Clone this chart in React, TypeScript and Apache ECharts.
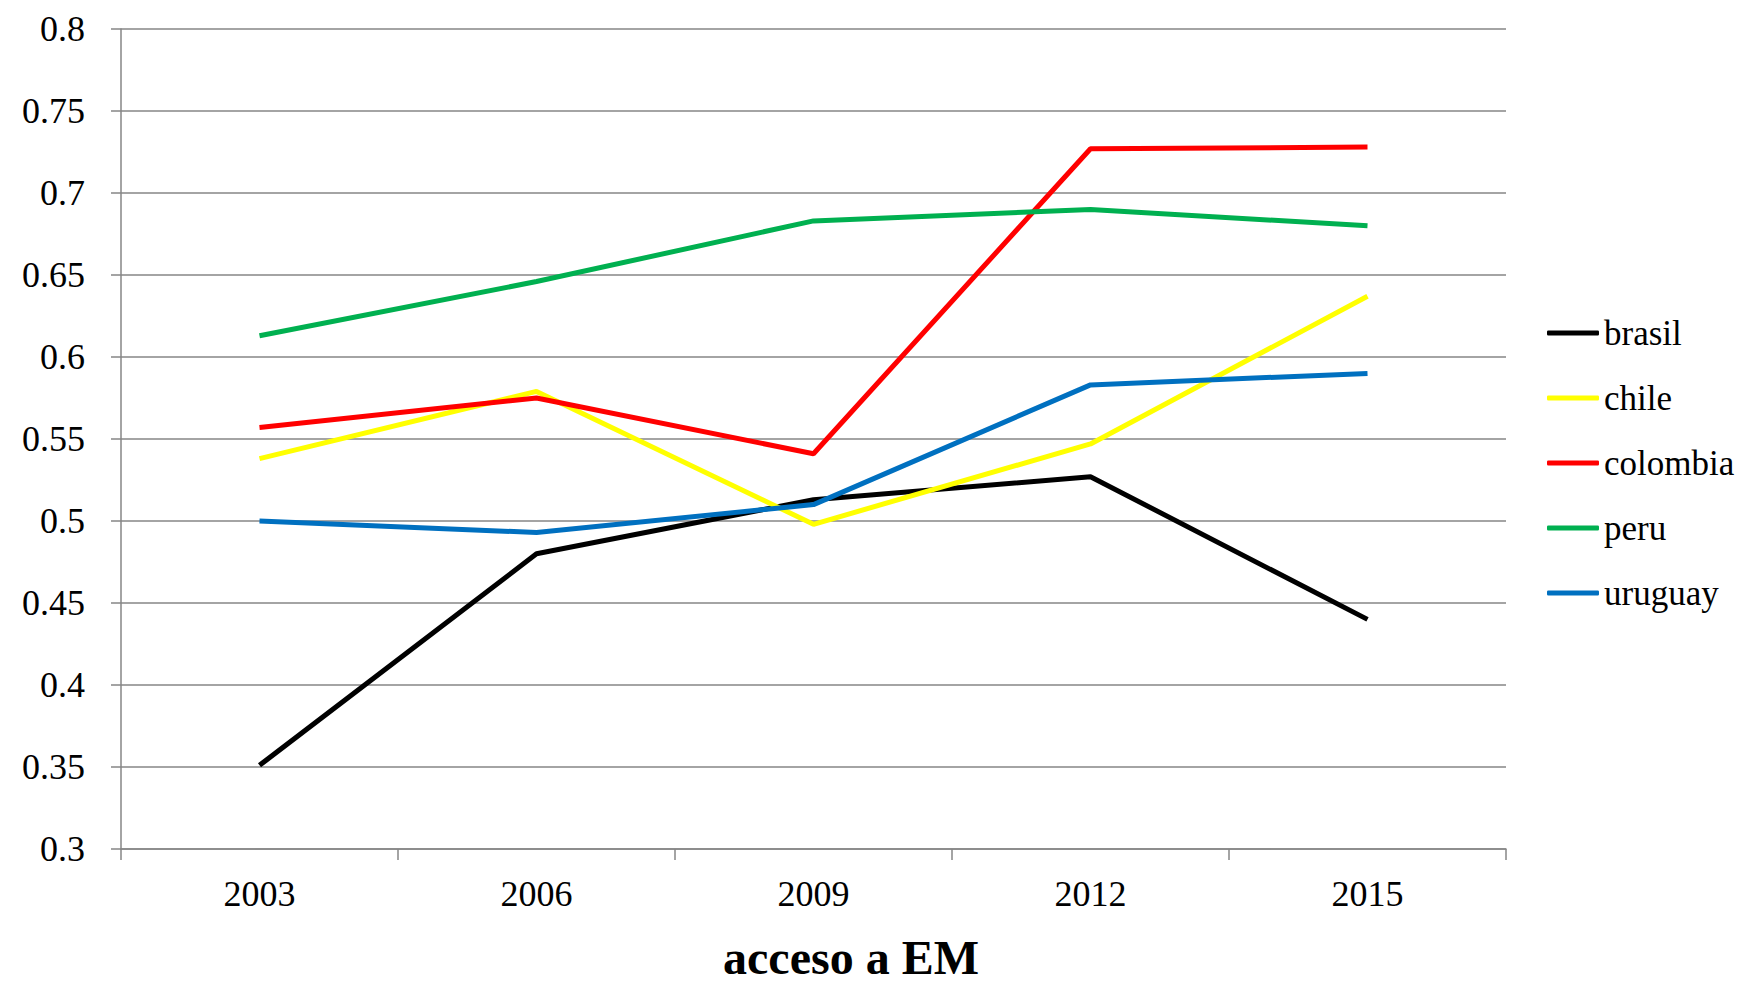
import React, { useEffect, useRef } from "react";
import * as echarts from "echarts";

const years = ["2003", "2006", "2009", "2012", "2015"];
const seriesNames = ["brasil", "chile", "colombia", "peru", "uruguay"];
const brasil = [0.351, 0.48, 0.513, 0.527, 0.44];
const chile = [0.538, 0.579, 0.498, 0.547, 0.637];
const colombia = [0.557, 0.575, 0.541, 0.727, 0.728];
const peru = [0.613, 0.646, 0.683, 0.69, 0.68];
const uruguay = [0.5, 0.493, 0.51, 0.583, 0.59];
const colors = ["#000000", "#FFFF00", "#FF0000", "#00B050", "#0070C0"];
const xTitle = "acceso a EM";

export default function App() {
  const ref = useRef<HTMLDivElement>(null);
  useEffect(() => {
    document.body.style.margin = "0";
    const chart = echarts.init(ref.current!, null, { renderer: "svg" });
    const font = "Liberation Serif";
    const data = [brasil, chile, colombia, peru, uruguay];
    chart.setOption({
      animation: false,
      backgroundColor: "#ffffff",
      textStyle: { fontFamily: font },
      grid: { left: 121, right: 245, top: 29, bottom: 134, containLabel: false },
      xAxis: {
        type: "category",
        data: years,
        boundaryGap: true,
        axisLine: { lineStyle: { color: "#868686", width: 1.5 } },
        axisTick: { show: true, length: 11, lineStyle: { color: "#868686", width: 1.5 } },
        axisLabel: { color: "#000", fontSize: 36, fontFamily: font, margin: 27 },
        splitLine: { show: false },
      },
      yAxis: {
        type: "value",
        min: 0.3,
        max: 0.8,
        interval: 0.05,
        axisLine: { show: true, lineStyle: { color: "#868686", width: 1.5 } },
        axisTick: { show: true, length: 10, lineStyle: { color: "#868686", width: 1.5 } },
        axisLabel: {
          color: "#000",
          fontSize: 36,
          fontFamily: font,
          margin: 36,
          formatter: (v: number) => String(parseFloat(v.toFixed(2))),
        },
        splitLine: { show: true, lineStyle: { color: "#868686", width: 1.5 } },
      },
      legend: {
        orient: "vertical",
        left: 1542,
        top: 308,
        itemWidth: 52,
        itemHeight: 5,
        itemGap: 25,
        itemTextGap: 6,
        icon: "roundRect",
        data: seriesNames,
        textStyle: { color: "#000", fontSize: 35, fontFamily: font, lineHeight: 40 },
      },
      graphic: [
        {
          type: "text",
          x: 851,
          y: 957,
          style: {
            text: xTitle,
            fontFamily: font,
            fontSize: 48,
            fontWeight: "bold",
            fill: "#000",
            textAlign: "center",
            textVerticalAlign: "middle",
          },
        },
      ],
      series: seriesNames.map((name, i) => ({
        name,
        type: "line",
        data: data[i],
        symbol: "none",
        color: colors[i],
        lineStyle: { color: colors[i], width: 5 },
      })),
    });
    return () => chart.dispose();
  }, []);
  return <div ref={ref} style={{ width: 1751, height: 983 }} />;
}
